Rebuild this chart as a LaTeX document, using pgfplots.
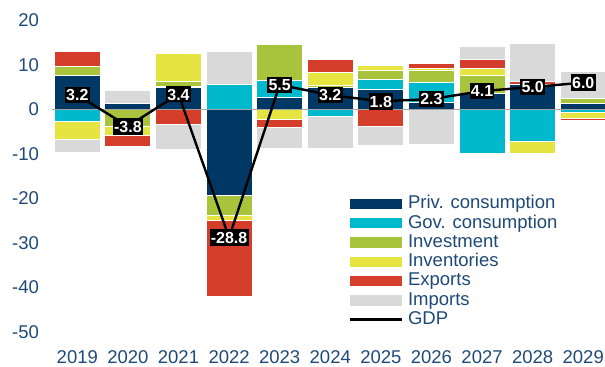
\documentclass[border=0pt]{standalone}
\usepackage{fontspec}
\setmainfont{Liberation Sans}
\usepackage{pgfplots}
\usepackage{pgfplotstable}
\pgfplotsset{compat=1.18}

\definecolor{privc}{RGB}{0,56,101}
\definecolor{govc}{RGB}{0,185,205}
\definecolor{invc}{RGB}{168,196,60}
\definecolor{stockc}{RGB}{229,228,64}
\definecolor{expc}{RGB}{214,62,44}
\definecolor{impc}{RGB}{217,217,217}
\definecolor{labc}{RGB}{31,73,120}
\definecolor{zeroc}{RGB}{166,166,166}

% Contributions to GDP growth, positive parts (stacked upwards)
\pgfplotstableread{
x  priv  gov  inv  stock exp  imp
0  7.6   0.0  2.0  0.0   3.5  0.0
1  1.2   0.0  0.0  0.0   0.0  3.1
2  4.9   0.2  1.2  6.3   0.0  0.0
3  0.0   5.5  0.0  0.0   0.0  7.5
4  2.7   3.7  8.1  0.0   0.0  0.0
5  5.0   0.0  0.4  2.8   3.0  0.0
6  4.5   2.2  2.1  1.0   0.0  0.0
7  1.5   4.5  2.7  0.5   1.0  0.0
8  3.6   0.0  4.1  1.5   1.9  3.0
9  5.5   0.0  0.0  0.0   0.7  8.6
10 1.3   0.0  1.2  0.0   0.0  5.9
}\postab

% Negative parts (stacked downwards)
\pgfplotstableread{
x  priv   gov   inv   stock exp    imp
0  0.0    -2.8  0.0   -3.9  0.0    -3.1
1  0.0    0.0   -3.9  -2.0  -2.5   0.0
2  0.0    0.0   0.0   0.0   -3.4   -5.7
3  -19.3  0.0   -4.6  -1.0  -17.2  0.0
4  0.0    0.0   0.0   -2.2  -1.9   -4.7
5  0.0    -1.6  0.0   0.0   0.0    -7.2
6  0.0    0.0   0.0   0.0   -3.9   -4.3
7  0.0    0.0   0.0   0.0   0.0    -7.8
8  0.0    -9.9  0.0   0.0   0.0    0.0
9  0.0    -7.3  0.0   -2.6  0.0    0.0
10 0.0    -0.7  0.0   -1.3  -0.5   0.0
}\negtab

\pgfplotsset{
  base/.style={
    scale only axis, width=276.5pt, height=155.75pt,
    xmin=-0.5, xmax=10.43, ymin=-50, ymax=20,
    at={(0,0)}, anchor=south west,
  },
  bars/.style={
    base, hide axis, ybar stacked, bar width=0.91,
    every axis plot/.append style={draw=white, line width=0.5pt},
  },
  barleg/.style={legend image code/.code={%
    \fill[##1, draw=none] (0pt,-2.6pt) rectangle (26pt,2.6pt);
    \path (29pt,0pt);}},
  lineleg/.style={legend image code/.code={%
    \draw[##1, line width=1.4pt] (0pt,0pt) -- (26pt,0pt);
    \path (29pt,0pt);}},
}

\begin{document}
\begin{tikzpicture}
% positive contributions
\begin{axis}[bars]
  \addplot[fill=privc]  table[x=x,y=priv]  {\postab};
  \addplot[fill=govc]   table[x=x,y=gov]   {\postab};
  \addplot[fill=invc]   table[x=x,y=inv]   {\postab};
  \addplot[fill=stockc] table[x=x,y=stock] {\postab};
  \addplot[fill=expc]   table[x=x,y=exp]   {\postab};
  \addplot[fill=impc]   table[x=x,y=imp]   {\postab};
\end{axis}
% negative contributions
\begin{axis}[bars]
  \addplot[fill=privc]  table[x=x,y=priv]  {\negtab};
  \addplot[fill=govc]   table[x=x,y=gov]   {\negtab};
  \addplot[fill=invc]   table[x=x,y=inv]   {\negtab};
  \addplot[fill=stockc] table[x=x,y=stock] {\negtab};
  \addplot[fill=expc]   table[x=x,y=exp]   {\negtab};
  \addplot[fill=impc]   table[x=x,y=imp]   {\negtab};
\end{axis}
% GDP line, ticks and legend
\begin{axis}[
  base, name=main,
  axis line style={draw=none}, major tick length=0pt,
  xtick={0,...,10},
  xticklabels={2019,2020,2021,2022,2023,2024,2025,2026,2027,2028,2029},
  ytick={-50,-40,-30,-20,-10,0,10,20},
  /pgf/number format/assume math mode=true,
  tick label style={font=\fontsize{9.25}{11}\selectfont, text=labc},
  yticklabel style={xshift=-3pt},
  xticklabel style={yshift=-6pt},
  legend cell align=left,
  legend style={at={(0.535,0.44)}, anchor=north west, draw=none, fill=none,
    font=\fontsize{9.25}{11}\selectfont, text=labc, inner sep=0pt, row sep=0.85pt,
    nodes={inner sep=0pt, text height=6.8pt, text depth=2pt}},
]
  \draw[zeroc, line width=0.75pt] (axis cs:-0.5,0) -- (axis cs:10.43,0);
  \addlegendimage{barleg, fill=privc}
  \addlegendentry{Priv. consumption}
  \addlegendimage{barleg, fill=govc}
  \addlegendentry{Gov. consumption}
  \addlegendimage{barleg, fill=invc}
  \addlegendentry{Investment}
  \addlegendimage{barleg, fill=stockc}
  \addlegendentry{Inventories}
  \addlegendimage{barleg, fill=expc}
  \addlegendentry{Exports}
  \addlegendimage{barleg, fill=impc}
  \addlegendentry{Imports}
  \addlegendimage{lineleg, black}
  \addlegendentry{GDP}
  \addplot[black, line width=1.2pt, forget plot, point meta=y,
    nodes near coords={\pgfmathprintnumber[fixed,fixed zerofill,precision=1,assume math mode=true]{\pgfplotspointmeta}},
    every node near coord/.append style={anchor=center, fill=black, text=white,
      font=\bfseries\fontsize{8}{8}\selectfont, inner xsep=0.6pt, inner ysep=1.2pt,
      text height=5.9pt, text depth=0pt}]
    coordinates {(0,3.2) (1,-3.8) (2,3.4) (3,-28.8) (4,5.5) (5,3.2)
                 (6,1.8) (7,2.3) (8,4.1) (9,5.0) (10,6.0)};
\end{axis}
\pgfresetboundingbox
\path[use as bounding box] ([shift={(-26pt,-17.6pt)}]main.south west)
  rectangle ([shift={(0pt,10.15pt)}]main.north east);
\end{tikzpicture}
\end{document}
